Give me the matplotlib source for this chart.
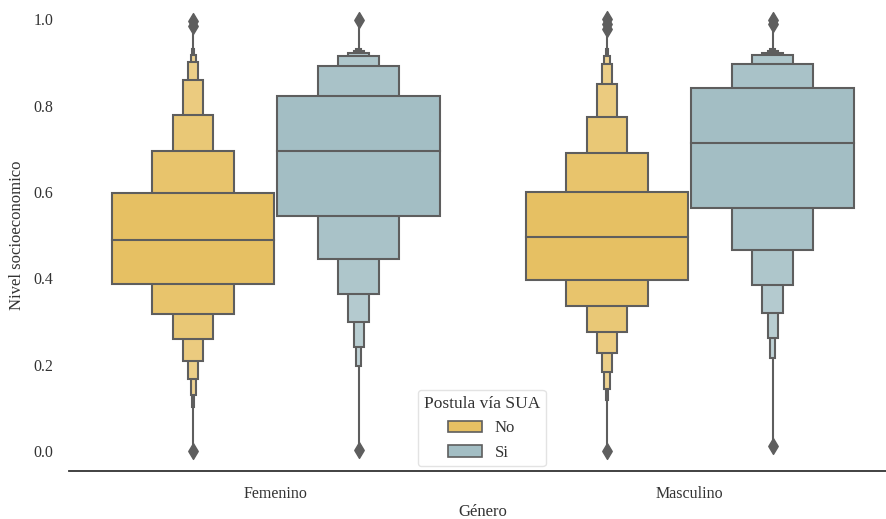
import numpy as np
import matplotlib.pyplot as plt
from matplotlib.patches import Rectangle, Patch
from matplotlib.colors import to_rgb

plt.rcParams['font.family'] = ['Liberation Serif', 'DejaVu Serif']

# categorias y grupos
generos = ['Femenino', 'Masculino']
sua = ['No', 'Si']

# limites de cada nivel (del centro hacia afuera)
fem_no_sup = [0.598, 0.695, 0.779, 0.859, 0.900, 0.917, 0.930]
fem_no_inf = [0.386, 0.317, 0.259, 0.209, 0.167, 0.130, 0.103]
fem_no_med = 0.488
fem_no_out = [0.001, 0.985, 0.995]

fem_si_sup = [0.822, 0.891, 0.915, 0.923, 0.927, 0.930]
fem_si_inf = [0.545, 0.444, 0.363, 0.298, 0.241, 0.197]
fem_si_med = 0.695
fem_si_out = [0.002, 0.999]

mas_no_sup = [0.599, 0.690, 0.773, 0.851, 0.896, 0.916, 0.930]
mas_no_inf = [0.397, 0.335, 0.277, 0.228, 0.183, 0.145, 0.118]
mas_no_med = 0.495
mas_no_out = [0.000, 0.978, 0.990, 1.000]

mas_si_sup = [0.841, 0.897, 0.917, 0.923, 0.927, 0.930]
mas_si_inf = [0.563, 0.465, 0.384, 0.319, 0.261, 0.215]
mas_si_med = 0.713
mas_si_out = [0.012, 0.988, 0.998]

grupos = {
    (0, 0): (fem_no_sup, fem_no_inf, fem_no_med, fem_no_out),
    (0, 1): (fem_si_sup, fem_si_inf, fem_si_med, fem_si_out),
    (1, 0): (mas_no_sup, mas_no_inf, mas_no_med, mas_no_out),
    (1, 1): (mas_si_sup, mas_si_inf, mas_si_med, mas_si_out),
}

colores = ['#E6C063', '#A3BEC4']
gris = '#5E5E5E'

fig = plt.figure(figsize=(8.86, 5.19), dpi=100)
ax = fig.add_axes([0.0777, 0.0925, 0.9345, 0.907])

ancho = 0.392
offsets = [-0.2, 0.2]

for (g, h), (sup, inf, med, out) in grupos.items():
    x = g + offsets[h]
    base = np.array(to_rgb(colores[h]))
    # linea central hasta los valores atipicos
    ax.plot([x, x], [min(out), max(out)], color=gris, lw=1.5, zorder=1)
    n = len(sup)
    for i in range(n - 1, -1, -1):
        w = ancho / 2 ** i
        c = base + (1 - base) * min(0.06 * i, 0.3)
        ax.add_patch(Rectangle((x - w / 2, inf[i]), w, sup[i] - inf[i],
                               facecolor=c, edgecolor=gris, lw=1.5, zorder=2 + (n - i)))
    ax.plot([x - ancho / 2, x + ancho / 2], [med, med], color=gris, lw=1.5, zorder=20)
    ax.scatter(np.repeat(x, len(out)), out, marker='d', s=65, color=gris, zorder=21)

ax.set_xlim(-0.5, 1.5)
ax.set_ylim(-0.046, 1.044)
ax.set_xticks([0, 1])
ax.set_xticklabels(generos)
ax.set_yticks([0.0, 0.2, 0.4, 0.6, 0.8, 1.0])
ax.tick_params(length=0, pad=11, labelsize=11.5, colors='#333333')
ax.set_xlabel('Género', fontsize=12, color='#333333', labelpad=1)
ax.set_ylabel('Nivel socioeconomico', fontsize=12, color='#333333', labelpad=6)

for s in ['top', 'right', 'left']:
    ax.spines[s].set_visible(False)
ax.spines['bottom'].set_color('#333333')
ax.spines['bottom'].set_linewidth(1.3)

handles = [Patch(facecolor=colores[i], edgecolor=gris, lw=1.2, label=sua[i]) for i in range(2)]
leg = ax.legend(handles=handles, title='Postula vía SUA', loc='lower center',
                bbox_to_anchor=(0.4988, -0.008), fontsize=12, title_fontsize=12.5,
                frameon=True, edgecolor='#DDDDDD', borderpad=0.35)
for t in leg.get_texts():
    t.set_color('#333333')
leg.get_title().set_color('#333333')

fig.savefig('out.png', dpi=100)
